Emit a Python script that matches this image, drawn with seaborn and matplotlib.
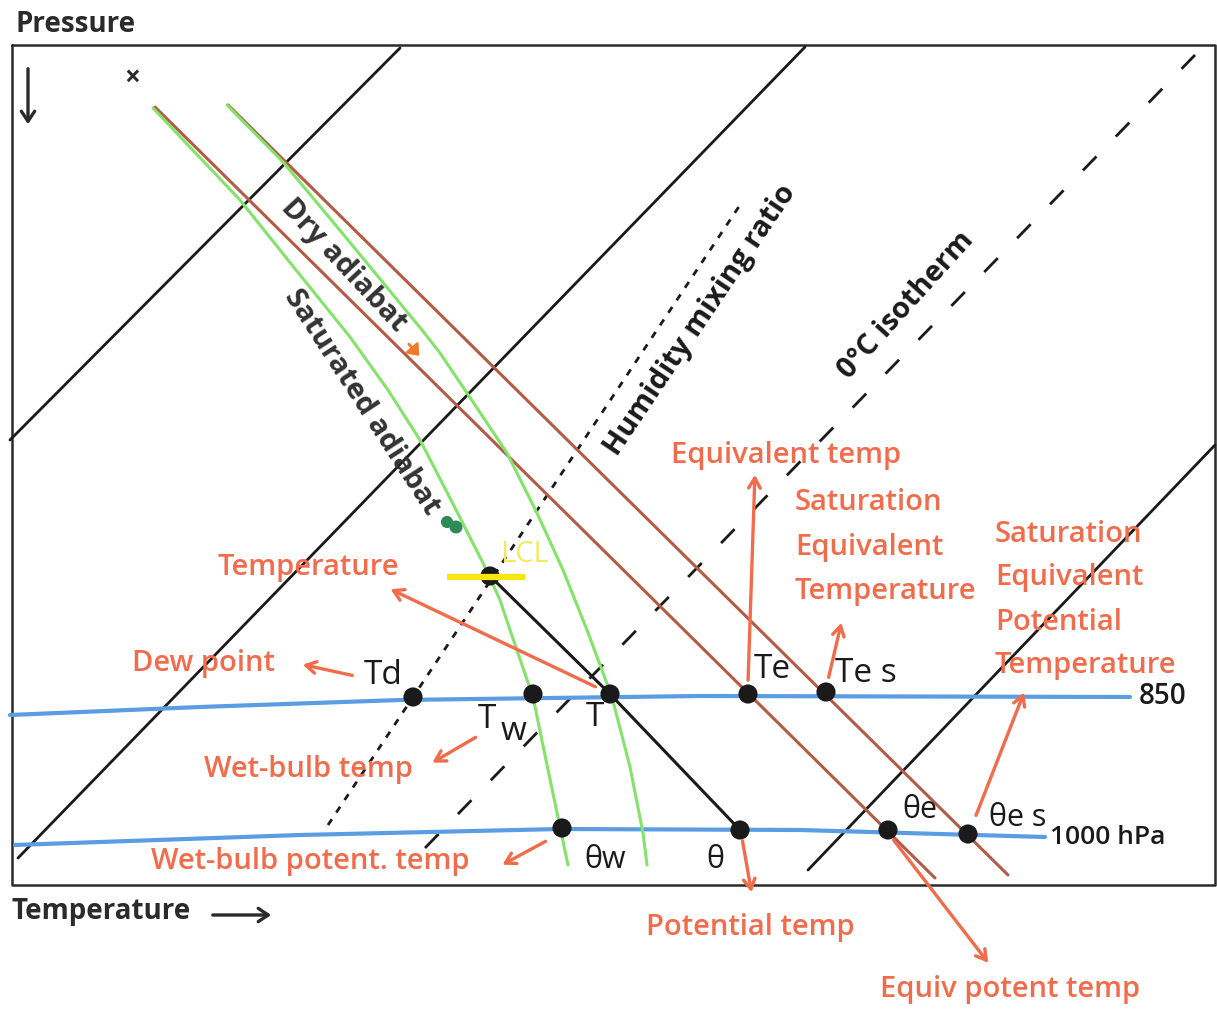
"""Skew-T style schematic of the temperature definitions."""
import numpy as np
import pandas as pd
import matplotlib.pyplot as plt
import seaborn as sns

# schematic coordinates (pixels, x right, y down)
box_x = [12, 1215, 1215, 12, 12]
box_y = [45, 45, 885, 885, 45]

isotherm_x = [[10, 400], [18, 805], [808, 1215]]
isotherm_y = [[440, 48], [858, 47], [870, 445]]

zero_iso_x = [425, 1195]
zero_iso_y = [848, 55]

mixing_x = [328, 740]
mixing_y = [825, 205]

dry_x = [[155, 935], [228, 1008]]
dry_y = [[107, 878], [105, 875]]

sat1_x = [153, 240, 292, 350, 388, 420, 451, 483, 490, 500, 510, 533, 546, 560, 568]
sat1_y = [108, 200, 265, 337, 390, 440, 500, 563, 578, 600, 630, 697, 760, 827, 865]
sat2_x = [227, 283, 348, 422, 440, 467, 507, 537, 563, 587, 612, 630, 643, 647]
sat2_y = [105, 162, 240, 330, 353, 393, 453, 513, 570, 630, 697, 767, 833, 865]

p850_x = [10, 200, 400, 700, 1130]
p850_y = [715, 707, 700, 696, 697]
p1000_x = [15, 300, 560, 800, 1045]
p1000_y = [845, 835, 829, 830, 837]

parcel_x = [490, 610, 740]
parcel_y = [576, 694, 830]

dot_names = ["Td", "Tw", "T", "Te", "Tes", "θw", "θ", "θe", "θes", "LCL"]
dot_x = [413, 533, 610, 748, 826, 562, 740, 888, 968, 490]
dot_y = [697, 694, 694, 694, 692, 828, 830, 830, 834, 576]

lcl_bar_x = [447, 525]
lcl_bar_y = [577, 577]

# orange labels: text, x, y, arrow tail, arrow head
notes = [
    ("Temperature", 308, 567, (598, 688), (388, 588)),
    ("Dew point", 203, 663, (355, 676), (300, 664)),
    ("Wet-bulb temp", 308, 770, (478, 736), (430, 764)),
    ("Wet-bulb potent. temp", 310, 862, (548, 840), (500, 866)),
    ("Equivalent temp", 786, 455, (748, 683), (755, 472)),
    ("Potential temp", 750, 928, (742, 838), (752, 895)),
    ("Equiv potent temp", 1010, 990, (892, 838), (990, 965)),
]
stack_notes = [
    (["Saturation", "Equivalent", "Temperature"], 795, 503, (828, 680), (842, 620)),
    (["Saturation", "Equivalent", "Potential", "Temperature"], 995, 534,
     (975, 818), (1025, 690)),
]

black_labels = [
    ("Td", 383, 675, 24), ("T", 487, 720, 24), ("w", 514, 731, 24),
    ("T", 595, 718, 24), ("Te", 772, 670, 24), ("Te s", 866, 673, 24),
    ("θw", 605, 860, 22), ("θ", 715, 860, 22), ("θe", 920, 810, 22),
    ("θe s", 1018, 818, 22),
]

sns.set_theme(style="white")
plt.rcParams["font.family"] = ["Open Sans", "DejaVu Sans"]

DARK = "#2b2b2b"
ORANGE = "#f26b4a"
BROWN = "#b35b45"
GREEN = "#84e36a"
BLUE = "#5b9de3"
ARROW = "->,head_length=0.6,head_width=0.35"

fig = plt.figure(figsize=(12.17, 10.10), dpi=100)
ax = fig.add_axes([0, 0, 1, 1])

ax.plot(box_x, box_y, color=DARK, lw=1.8, zorder=2)

for xs, ys in zip(isotherm_x, isotherm_y):
    ax.plot(xs, ys, color="#1a1a1a", lw=2.0, zorder=2)
ax.plot(zero_iso_x, zero_iso_y, color="#1a1a1a", lw=2.0, ls=(0, (7, 10)), zorder=2)
ax.plot(mixing_x, mixing_y, color="#1a1a1a", lw=2.0, ls=(0, (2.5, 2.9)), zorder=2)

for xs, ys in zip(dry_x, dry_y):
    ax.plot(xs, ys, color=BROWN, lw=2.2, zorder=3)
sat = pd.DataFrame({
    "x": sat1_x + sat2_x,
    "y": sat1_y + sat2_y,
    "curve": ["a"] * len(sat1_x) + ["b"] * len(sat2_x),
})
sns.lineplot(data=sat, x="x", y="y", units="curve", estimator=None, sort=False,
             color=GREEN, lw=2.2, ax=ax, zorder=3)

ax.plot(p850_x, p850_y, color=BLUE, lw=3.0, zorder=2.5)
ax.plot(p1000_x, p1000_y, color=BLUE, lw=3.0, zorder=2.5)
ax.plot(parcel_x, parcel_y, color="#1a1a1a", lw=2.2, zorder=4)

dots = pd.DataFrame({"x": dot_x, "y": dot_y, "name": dot_names})
sns.scatterplot(data=dots, x="x", y="y", color="#1a1a1a", s=190,
                edgecolor="none", ax=ax, zorder=5)
ax.plot(lcl_bar_x, lcl_bar_y, color="#f7e613", lw=4.5, zorder=6,
        solid_capstyle="butt")
ax.text(500, 555, "LCL", color="#f3e860", fontsize=21, ha="left", va="center")

ax.set_xlim(0, 1217)
ax.set_ylim(1010, 0)
ax.axis("off")

# orange annotations
for text, x, y, tail, head in notes:
    ax.text(x, y, text, color=ORANGE, fontsize=21, fontweight="semibold",
            ha="center", va="center", zorder=7)
    ax.annotate("", xy=head, xytext=tail,
                arrowprops=dict(arrowstyle=ARROW, color=ORANGE, lw=2.4), zorder=7)
for lines, x, y0, tail, head in stack_notes:
    for i, line in enumerate(lines):
        ax.text(x, y0 + i * 44, line, color=ORANGE, fontsize=21,
                fontweight="semibold", ha="left", va="center", zorder=7)
    ax.annotate("", xy=head, xytext=tail,
                arrowprops=dict(arrowstyle=ARROW, color=ORANGE, lw=2.4), zorder=7)

for text, x, y, size in black_labels:
    ax.text(x, y, text, color="#1a1a1a", fontsize=size, fontweight="medium",
            ha="center", va="center", zorder=7)
ax.text(1163, 697, "850", color="#1a1a1a", fontsize=20, fontweight="semibold",
        ha="center", va="center")
ax.text(1108, 838, "1000 hPa", color="#1a1a1a", fontsize=19,
        fontweight="semibold", ha="center", va="center")

# rotated line labels
ax.text(700, 320, "Humidity mixing ratio", color="#1a1a1a", fontsize=21,
        fontweight="bold", rotation=56, rotation_mode="anchor",
        ha="center", va="center")
ax.text(906, 305, "0°C isotherm", color="#1a1a1a", fontsize=21,
        fontweight="bold", rotation=48, rotation_mode="anchor",
        ha="center", va="center")
ax.text(344, 265, "Dry adiabat", color="#333333", fontsize=21,
        fontweight="bold", rotation=-47, rotation_mode="anchor",
        ha="center", va="center")
ax.text(362, 402, "Saturated adiabat", color="#333333", fontsize=21,
        fontweight="bold", rotation=-57, rotation_mode="anchor",
        ha="center", va="center")

# little hand-drawn marks next to the adiabat labels
ax.annotate("", xy=(421, 358), xytext=(407, 342),
            arrowprops=dict(arrowstyle="-|>,head_length=0.5,head_width=0.4",
                            color="#f07a2a", lw=2))
ax.scatter([447, 456], [522, 527], s=[60, 70], color="#2e8b57", zorder=6)

# axis names
ax.text(15, 25, "Pressure", color=DARK, fontsize=20, fontweight="bold",
        ha="left", va="center")
ax.text(12, 912, "Temperature", color=DARK, fontsize=20, fontweight="bold",
        ha="left", va="center")
ax.annotate("", xy=(274, 915), xytext=(210, 915),
            arrowprops=dict(arrowstyle="->,head_length=0.6,head_width=0.4",
                            color=DARK, lw=2.4))
ax.annotate("", xy=(28, 127), xytext=(28, 66),
            arrowprops=dict(arrowstyle="->,head_length=0.6,head_width=0.4",
                            color=DARK, lw=2.4))
ax.text(132, 78, "×", color=DARK, fontsize=20, fontweight="bold",
        ha="center", va="center")

fig.savefig("out.png", dpi=100, facecolor="white")
